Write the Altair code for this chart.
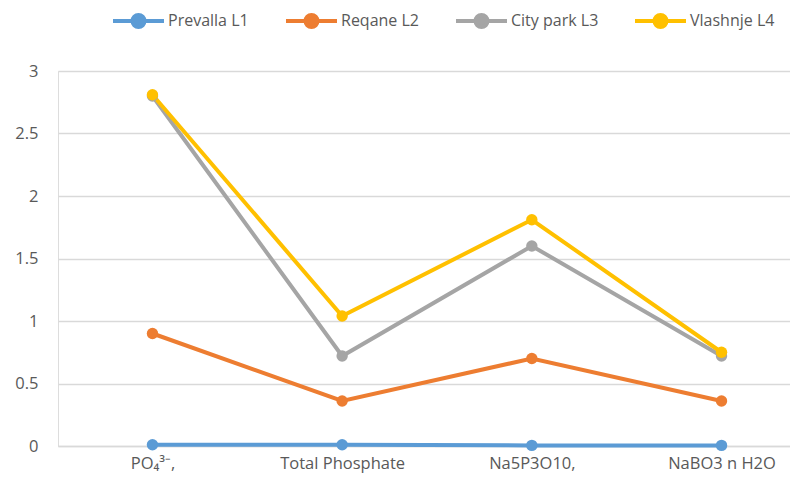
import altair as alt
import pandas as pd

categories = ["PO₄³⁻,", "Total Phosphate", "Na5P3O10,", "NaBO3  n H2O"]
series_names = ["Prevalla L1", "Reqane L2", "City park L3", "Vlashnje L4"]
prevalla = [0.01, 0.01, 0.005, 0.005]
reqane = [0.9, 0.36, 0.7, 0.36]
city_park = [2.8, 0.72, 1.6, 0.72]
vlashnje = [2.81, 1.04, 1.81, 0.75]
colors = ["#5B9BD5", "#ED7D31", "#A5A5A5", "#FFC000"]

rows = []
for name, vals in zip(series_names, [prevalla, reqane, city_park, vlashnje]):
    for i, (c, v) in enumerate(zip(categories, vals)):
        rows.append({"idx": i, "category": c, "series": name, "value": v})
df = pd.DataFrame(rows)

FONT = "Open Sans"

label_expr = "[" + ",".join("'" + c + "'" for c in categories) + "][datum.value]"

OVER = 18.5
color_enc = alt.Color(
    "series:N",
    scale=alt.Scale(domain=series_names, range=colors),
    sort=series_names,
    legend=alt.Legend(
        title=None,
        orient="none",
        direction="horizontal",
        legendX=53 + OVER,
        legendY=-59,
        symbolType="M-3.643,0L3.643,0M-0.857,0a0.857,0.857 0 1,0 1.714,0a0.857,0.857 0 1,0 -1.714,0",
        symbolSize=196,
        symbolStrokeWidth=4,
        labelFont=FONT,
        labelFontSize=16,
        labelColor="#595959",
        labelOffset=2 + OVER,
        columnPadding=28,
        padding=0,
    ),
)

x_enc = alt.X(
    "idx:Q",
    scale=alt.Scale(domain=[-0.498, 3.361], nice=False, zero=False),
    axis=alt.Axis(
        title=None,
        values=[0, 1, 2, 3],
        labelExpr=label_expr,
        labelAngle=0,
        ticks=False,
        domain=True,
        domainColor="#D9D9D9",
        domainWidth=1.5,
        grid=False,
        labelFont=FONT,
        labelFontSize=16.5,
        labelColor="#595959",
        labelPadding=9,
    ),
)
y_enc = alt.Y(
    "value:Q",
    scale=alt.Scale(domain=[0, 3], nice=False, zero=True),
    axis=alt.Axis(
        title=None,
        values=[0, 0.5, 1, 1.5, 2, 2.5, 3],
        format="~g",
        ticks=False,
        domain=False,
        gridColor="#D9D9D9",
        gridWidth=1.5,
        labelFont=FONT,
        labelFontSize=16.5,
        labelColor="#595959",
        labelPadding=20,
    ),
)

base = alt.Chart(df).encode(x=x_enc, y=y_enc, color=color_enc,
                            order=alt.Order("idx:Q"))
lines = base.mark_line(strokeWidth=4)
points = base.mark_circle(size=130, opacity=1)

chart = (
    alt.layer(lines, points)
    .properties(
        width=732,
        height=375,
        padding={"left": 50, "top": 63, "right": 0, "bottom": 30},
        autosize="none",
    )
    .configure_view(stroke=None)
    .configure(background="white")
)

chart.save("out.html", embed_options={"renderer": "svg", "actions": False})
